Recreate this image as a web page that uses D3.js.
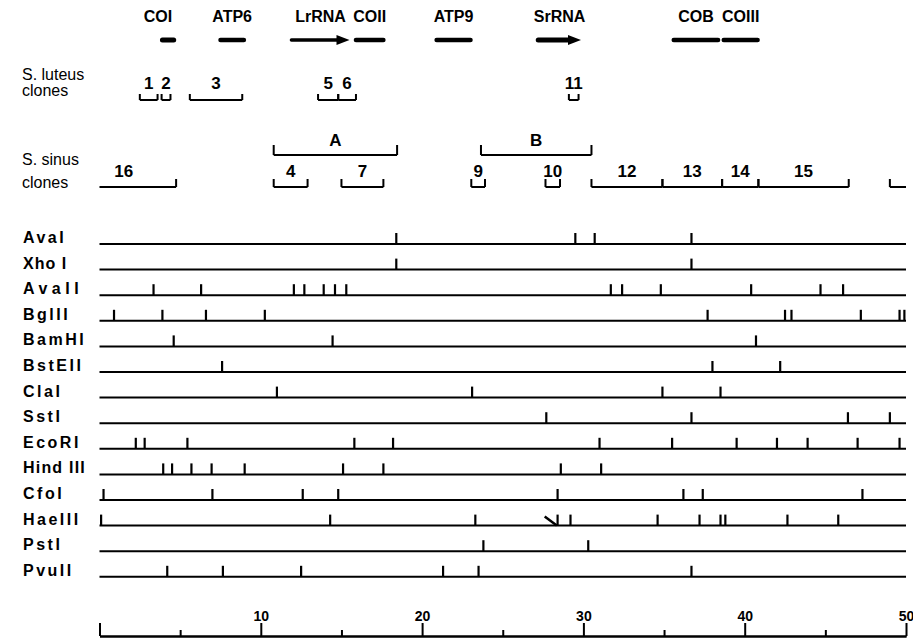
<!DOCTYPE html>
<html>
<head>
<meta charset="utf-8">
<script src="https://cdn.jsdelivr.net/npm/d3@7"></script>
<style>
  body { margin: 0; background: #fff; }
  svg { display: block; font-family: "Liberation Sans", Arial, sans-serif; }
</style>
</head>
<body>
<div id="chart"></div>
<script>
// genes along the map (kb)
const genes      = ["COI", "ATP6", "LrRNA", "COII", "ATP9", "SrRNA", "COB", "COIII"];
const geneStart  = [3.9, 7.5, 11.9, 15.9, 20.9, 27.2, 35.6, 38.7];
const geneEnd    = [4.6, 8.95, 15.5, 17.6, 23.0, 29.85, 38.35, 40.8];
const geneArrow  = [false, false, true, false, false, true, false, false];

// S. luteus clones
const luteusClones = ["1", "2", "3", "5", "6", "11"];
const luteusStart  = [2.5, 3.85, 5.6, 13.55, 14.8, 29.1];
const luteusEnd    = [3.6, 4.4, 8.85, 14.8, 15.9, 29.7];

// S. sinus clone groups and clones (16 wraps round the circle)
const sinusGroups     = ["A", "B"];
const sinusGroupStart = [10.8, 23.65];
const sinusGroupEnd   = [18.45, 30.5];
const sinusClones = ["16", "4", "7", "9", "10", "12", "13", "14", "15"];
const sinusStart  = [49.0, 10.8, 15.0, 23.05, 27.65, 30.5, 34.9, 38.6, 40.85];
const sinusEnd    = [4.75, 12.9, 17.6, 23.9, 28.55, 34.9, 38.6, 40.85, 46.45];

// restriction enzymes and their sites (kb)
const enzymes = ["AvaI", "Xho I", "AvaII", "BglII", "BamHI", "BstEII", "ClaI",
                 "SstI", "EcoRI", "Hind III", "CfoI", "HaeIII", "PstI", "PvuII"];
const sitesAvaI    = [18.4, 29.5, 30.7, 36.7];
const sitesXhoI    = [18.4, 36.7];
const sitesAvaII   = [3.35, 6.3, 12.05, 12.7, 13.9, 14.6, 15.3, 31.7, 32.4, 34.8, 40.4, 44.7, 46.1];
const sitesBglII   = [0.9, 3.9, 6.6, 10.25, 37.7, 42.5, 42.9, 47.2, 49.6, 49.9];
const sitesBamHI   = [4.6, 14.45, 40.7];
const sitesBstEII  = [7.6, 38.0, 42.2];
const sitesClaI    = [11.0, 23.1, 34.9, 38.5];
const sitesSstI    = [27.7, 36.7, 46.4, 49.0];
const sitesEcoRI   = [2.25, 2.8, 5.45, 15.8, 18.2, 31.0, 35.5, 39.5, 42.0, 43.9, 47.0, 49.6];
const sitesHindIII = [3.95, 4.5, 5.7, 6.95, 9.0, 15.1, 17.6, 28.6, 31.1];
const sitesCfoI    = [0.25, 7.0, 12.6, 14.8, 28.4, 36.2, 37.4, 47.3];
const sitesHaeIII  = [0.1, 14.3, 23.3, 28.4, 29.2, 34.6, 37.2, 38.5, 38.8, 42.65, 45.8];
const sitesPstI    = [23.8, 30.3];
const sitesPvuII   = [4.2, 7.65, 12.5, 21.3, 23.5, 36.7];
const haeIIISlant  = [27.6, 28.35];   // the slanted HaeIII mark

// scale ticks (kb)
const majorTicks = [0, 10, 20, 30, 40, 50];
const minorTicks = [5, 15, 25, 35, 45];

const allSites = [sitesAvaI, sitesXhoI, sitesAvaII, sitesBglII, sitesBamHI, sitesBstEII, sitesClaI,
                  sitesSstI, sitesEcoRI, sitesHindIII, sitesCfoI, sitesHaeIII, sitesPstI, sitesPvuII];

const width = 913;
const height = 639;

const svg = d3.select("#chart")
    .append("svg")
    .attr("width", width)
    .attr("height", height);

const x = d3.scaleLinear().domain([0, 50]).range([99.5, 906]);

// ---- genes ----
const geneY = 40;
const geneG = svg.append("g");
const geneLabelShift = { COI: -10 };

genes.forEach((name, i) => {
    const x0 = x(geneStart[i]), x1 = x(geneEnd[i]);
    if (geneArrow[i]) {
        const thick = name === "SrRNA" ? 5 : 3.5;
        geneG.append("line")
            .attr("x1", x0).attr("x2", x1 - 10)
            .attr("y1", geneY).attr("y2", geneY)
            .attr("stroke", "#000").attr("stroke-width", thick)
            .attr("stroke-linecap", "round");
        geneG.append("path")
            .attr("d", `M${x1 - 13},${geneY - 5}L${x1},${geneY}L${x1 - 13},${geneY + 5}Z`)
            .attr("fill", "#000");
    } else {
        geneG.append("line")
            .attr("x1", x0).attr("x2", x1)
            .attr("y1", geneY).attr("y2", geneY)
            .attr("stroke", "#000").attr("stroke-width", name === "COI" ? 5 : 4.5)
            .attr("stroke-linecap", "round");
    }
    geneG.append("text")
        .attr("x", (x0 + x1) / 2 + (geneLabelShift[name] || 0))
        .attr("y", 22)
        .attr("text-anchor", "middle")
        .style("font-size", "16px")
        .style("font-weight", "bold")
        .text(name);
});

// ---- clone brackets ----
function bracket(g, x0, x1, y, h, left = true, right = true) {
    let d = `M${x0},${y}L${x1},${y}`;
    if (left) d += `M${x0},${y - h}L${x0},${y}`;
    if (right) d += `M${x1},${y - h}L${x1},${y}`;
    g.append("path")
        .attr("d", d)
        .attr("fill", "none")
        .attr("stroke", "#000")
        .attr("stroke-width", 2);
}

function rowLabel(lines, y0, dy) {
    lines.forEach((t, i) => {
        svg.append("text")
            .attr("x", 22).attr("y", y0 + i * dy)
            .style("font-size", "16px")
            .text(t);
    });
}

function cloneLabel(g, cx, y, t) {
    g.append("text")
        .attr("x", cx).attr("y", y)
        .attr("text-anchor", "middle")
        .style("font-size", "17px")
        .style("font-weight", "bold")
        .text(t);
}

// S. luteus
rowLabel(["S. luteus", "clones"], 80, 16);
const lutG = svg.append("g");
luteusClones.forEach((c, i) => {
    const x0 = x(luteusStart[i]), x1 = x(luteusEnd[i]);
    bracket(lutG, x0, x1, 100, 6);
    cloneLabel(lutG, (x0 + x1) / 2, 89, c);
});

// S. sinus
rowLabel(["S. sinus", "clones"], 165, 23);
const sinG = svg.append("g");
sinusGroups.forEach((c, i) => {
    const x0 = x(sinusGroupStart[i]), x1 = x(sinusGroupEnd[i]);
    bracket(sinG, x0, x1, 155, 10);
    cloneLabel(sinG, (x0 + x1) / 2, 146, c);
});
sinusClones.forEach((c, i) => {
    const s = sinusStart[i], e = sinusEnd[i];
    if (s > e) {
        // wraps past 50 kb back to 0
        bracket(sinG, x(s), x(50), 187, 8, true, false);
        bracket(sinG, x(0), x(e), 187, 8, false, true);
        cloneLabel(sinG, (x(0) + x(e)) / 2 - 14, 177, c);
    } else {
        bracket(sinG, x(s), x(e), 187, 8);
        cloneLabel(sinG, (x(s) + x(e)) / 2, 177, c);
    }
});

// ---- restriction map rows ----
const rowY = d3.scalePoint().domain(enzymes).range([244, 244 + 25.6 * 13]);
const mapG = svg.append("g");
const labelSpacing = { "AvaII": 4.5, "Xho I": 1, "Hind III": 1.2 };

enzymes.forEach((name, i) => {
    const y = rowY(name);
    mapG.append("text")
        .attr("x", 23).attr("y", y - 1)
        .style("font-size", "16px")
        .style("font-weight", "bold")
        .style("letter-spacing", (labelSpacing[name] ?? 2.5) + "px")
        .text(name);
    mapG.append("line")
        .attr("x1", x(0)).attr("x2", x(50))
        .attr("y1", y).attr("y2", y)
        .attr("stroke", "#000").attr("stroke-width", 2);
    mapG.selectAll(null)
        .data(allSites[i])
        .join("line")
        .attr("x1", d => x(d)).attr("x2", d => x(d))
        .attr("y1", y).attr("y2", y - 11)
        .attr("stroke", "#000").attr("stroke-width", 2.2);
    if (name === "HaeIII") {
        mapG.append("line")
            .attr("x1", x(haeIIISlant[0])).attr("y1", y - 9)
            .attr("x2", x(haeIIISlant[1])).attr("y2", y)
            .attr("stroke", "#000").attr("stroke-width", 2.5);
    }
});

// ---- kb scale ----
const axisY = 636;
const major = d3.axisTop(x)
    .tickValues(majorTicks)
    .tickSize(13)
    .tickSizeOuter(0)
    .tickPadding(2)
    .tickFormat(d => d === 0 ? "" : d);
const minor = d3.axisTop(x)
    .tickValues(minorTicks)
    .tickSize(6)
    .tickSizeOuter(0)
    .tickFormat("");

const axG = svg.append("g").attr("transform", `translate(0,${axisY})`);
axG.call(major);
axG.append("g").call(minor);
axG.selectAll("path, line").attr("stroke", "#000").attr("stroke-width", 2);
axG.selectAll("text")
    .attr("fill", "#000")
    .style("font-size", "14px")
    .style("font-weight", "bold")
    .style("font-family", "\"Liberation Sans\", Arial, sans-serif");
</script>
</body>
</html>
